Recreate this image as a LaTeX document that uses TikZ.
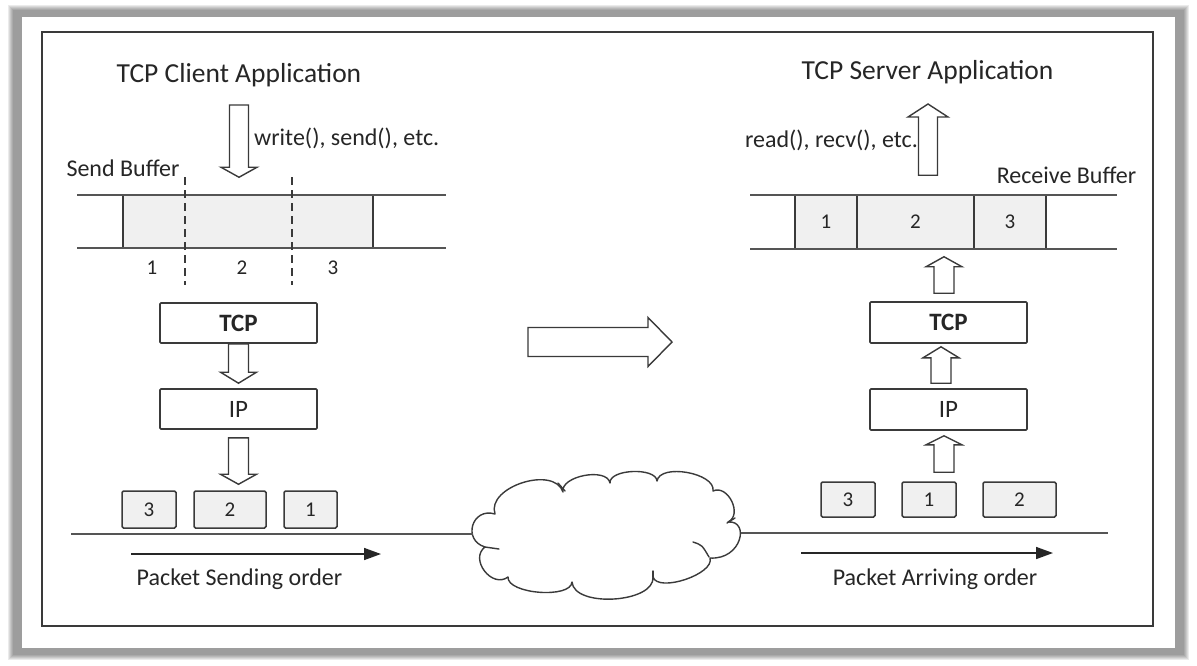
\documentclass[tikz,border=0pt]{standalone}
\usepackage{fontspec}
\setmainfont{Carlito}
\usetikzlibrary{calc,arrows.meta}
\definecolor{ink}{HTML}{262626}
\definecolor{edge}{HTML}{3A3A3A}
\definecolor{cell}{HTML}{F0F0F0}
\definecolor{rulec}{HTML}{555555}
% block arrow: #1 tail, #2 tip, #3 shaft half width, #4 head half width, #5 head length
\newcommand\blockarrow[5]{%
  \coordinate (ba-h) at ($(#2)!#5!(#1)$);
  \draw[barrow] ($(#1)!#3!90:(#2)$) -- ($(ba-h)!#3!90:(#2)$) -- ($(ba-h)!#4!90:(#2)$) -- (#2)
     -- ($(ba-h)!#4!-90:(#2)$) -- ($(ba-h)!#3!-90:(#2)$) -- ($(#1)!#3!-90:(#2)$) -- cycle;}
\begin{document}
\begin{tikzpicture}[x=1pt,y=-1pt,
  txt/.style={text=ink,inner sep=0pt},
  lbl/.style={txt,font=\fontsize{24}{28}\selectfont},
  ttl/.style={txt,font=\fontsize{27.5}{32}\selectfont},
  num/.style={txt,font=\fontsize{21}{25}\selectfont},
  layer/.style={draw=edge,line width=1.6pt,fill=white,minimum width=157pt,minimum height=40pt,
     rounded corners=1pt,inner sep=0pt,font=\fontsize{25}{30}\selectfont,text=ink},
  pkt/.style={draw=edge,line width=1.5pt,fill=cell,minimum height=37pt,rounded corners=1.5pt,
     inner sep=0pt,font=\fontsize{21}{25}\selectfont,text=ink},
  cellbox/.style={draw=edge,line width=1.5pt,fill=cell,minimum height=54pt,inner sep=0pt,
     font=\fontsize{21}{25}\selectfont,text=ink},
  barrow/.style={draw=edge,line width=1.4pt,fill=white,line join=miter},
  rulel/.style={draw=rulec,line width=1.6pt},
  cloudl/.style={draw=edge,line width=1.4pt,line join=round,line cap=round},
  order/.style={draw=ink,line width=1.6pt,-{Triangle[length=17pt,width=12pt]}},
  dashl/.style={draw=edge,line width=1.4pt,dash pattern=on 8pt off 5pt},
]
\useasboundingbox (0,0) rectangle (1197,665);
% frame with soft shadow
\foreach \i in {0,1,2,3,4,5}
  \fill[black,opacity=0.08] (8+\i,5+\i) rectangle (1189-\i,660-\i);
\fill[white] (22,17) rectangle (1175,648);
\draw[edge,line width=2pt] (42,32) rectangle (1153,626);

% ---------- client side ----------
\node[ttl] (client) at (239,75) {TCP Client Application};
\node[cellbox,minimum width=250pt,minimum height=53pt] (sbuf) at (248,221.5) {};
\draw[rulel] (77,195) -- (446,195);
\draw[rulel] (77,248) -- (446,248);
\draw[dashl] (185,177) -- (185,285);
\draw[dashl] (292,177) -- (292,285);
\node[num] (sn1) at (152,268) {1};
\node[num] (sn2) at (242,268) {2};
\node[num] (sn3) at (333,268) {3};
\node[lbl,anchor=west] (wlbl) at (254,138) {write(), send(), etc.};
\node[lbl] (sblbl) at (123,168) {Send Buffer};
\coordinate (wtail) at ($(client.center)+(0,30)$);
\coordinate (wtip) at ($(sbuf.north -| client.center)+(0,-17)$);
\blockarrow{wtail}{wtip}{9.5pt}{18pt}{10pt}

\node[layer] (ltcp) at (238.5,323) {\bfseries TCP};
\node[layer] (lip) at (238.5,409) {IP};
\node[pkt,minimum width=54pt] (lp3) at (149,509.5) {3};
\node[pkt,minimum width=72pt] (lp2) at (230,509.5) {2};
\node[pkt,minimum width=53pt] (lp1) at (310.5,509.5) {1};
\coordinate (a1h) at ($(lip.north)+(0,-5)$);
\blockarrow{ltcp.south}{a1h}{10pt}{18pt}{11pt}
\coordinate (a2t) at ($(lip.south)+(0,8)$);
\coordinate (a2h) at ($(lip.south |- lp2.north)+(0,-6)$);
\blockarrow{a2t}{a2h}{10pt}{18pt}{10pt}

% ---------- network cloud ----------
\draw[cloudl,fill=white] (485,547) .. controls (462,540) and (472,507) .. (495,514)
  .. controls (486,487) and (554,465) .. (563,492)
  .. controls (560,476) and (607,467) .. (610,483)
  .. controls (609,469) and (656,467) .. (657,481)
  .. controls (660,463) and (716,473) .. (713,491)
  .. controls (728,484) and (743,515) .. (728,522)
  .. controls (750,520) and (742,560) .. (710,558)
  .. controls (715,574) and (658,593) .. (653,577)
  .. controls (655,603) and (574,608) .. (572,582)
  .. controls (571,599) and (507,594) .. (508,577)
  .. controls (492,589) and (469,559) .. (485,547) -- cycle;
\draw[cloudl] (558,483) -- (565,491);
\draw[cloudl] (485,547) -- (499,549);
\draw[cloudl] (693,542) .. controls (702,545) .. (709,557);
\draw[cloudl] (727,523) -- (735,518);
\draw[cloudl] (653,577) -- (653,571);
\coordinate (clw) at (473,534);
\coordinate (cle) at (741,533);
\coordinate (lg) at (71,536);
\draw[rulel] (lg |- clw) -- (clw);
\coordinate (rg) at (1108,532);
\draw[rulel] (cle) -- (cle -| rg);
\coordinate (s1) at (131,554);
\coordinate (s2) at (381,554);
\draw[order] (s1) -- (s2);
\node[lbl] (sord) at (239.5,579) {Packet Sending order};
\coordinate (b1) at (528,342);
\coordinate (b2) at (672,342);
\blockarrow{b1}{b2}{14.5pt}{24.5pt}{24pt}

% ---------- server side ----------
\node[ttl] (server) at (927.5,72) {TCP Server Application};
\node[cellbox,minimum width=62pt] (rb1) at (826,222) {1};
\node[cellbox,minimum width=117pt] (rb2) at (915.5,222) {2};
\node[cellbox,minimum width=72pt] (rb3) at (1010,222) {3};
\draw[rulel] (750,195) -- (1117,195);
\draw[rulel] (750,249) -- (1117,249);
\node[lbl,anchor=east] (rlbl) at (918,140) {read(), recv(), etc.};
\node[lbl] (rblbl) at (1066.5,175) {Receive Buffer};
\coordinate (r1) at ($(rb2.north)+(12.5,-19)$);
\coordinate (r2) at ($(r1 |- server.center)+(0,32)$);
\blockarrow{r1}{r2}{9.5pt}{20pt}{13pt}

\node[layer,minimum height=41pt] (rtcp) at (948.5,322.5) {\bfseries TCP};
\node[layer,minimum height=41pt] (rip) at (948.5,409.5) {IP};
\node[pkt,minimum width=54pt,minimum height=35pt] (rp3) at (848,499.5) {3};
\node[pkt,minimum width=54pt,minimum height=35pt] (rp1) at (929,499.5) {1};
\node[pkt,minimum width=73pt,minimum height=35pt] (rp2) at (1019.5,499.5) {2};
\coordinate (u1t) at ($(rp1.north)+(15,-9)$);
\coordinate (u1h) at ($(rip.south)+(-4.5,5)$);
\blockarrow{u1t}{u1h}{10pt}{18pt}{9pt}
\coordinate (u2t) at ($(rip.north)+(-7.5,-5)$);
\coordinate (u2h) at ($(rtcp.south)+(-7.5,3)$);
\blockarrow{u2t}{u2h}{10pt}{18pt}{11pt}
\coordinate (u3t) at ($(rtcp.north)+(-4.5,-8)$);
\coordinate (u3h) at ($(rb2.south -| u3t)+(0,7)$);
\blockarrow{u3t}{u3h}{10pt}{18pt}{10pt}
\coordinate (e1) at (801,553);
\coordinate (e2) at (1053,553);
\draw[order] (e1) -- (e2);
\node[lbl] (aord) at (935,579) {Packet Arriving order};
\end{tikzpicture}
\end{document}
